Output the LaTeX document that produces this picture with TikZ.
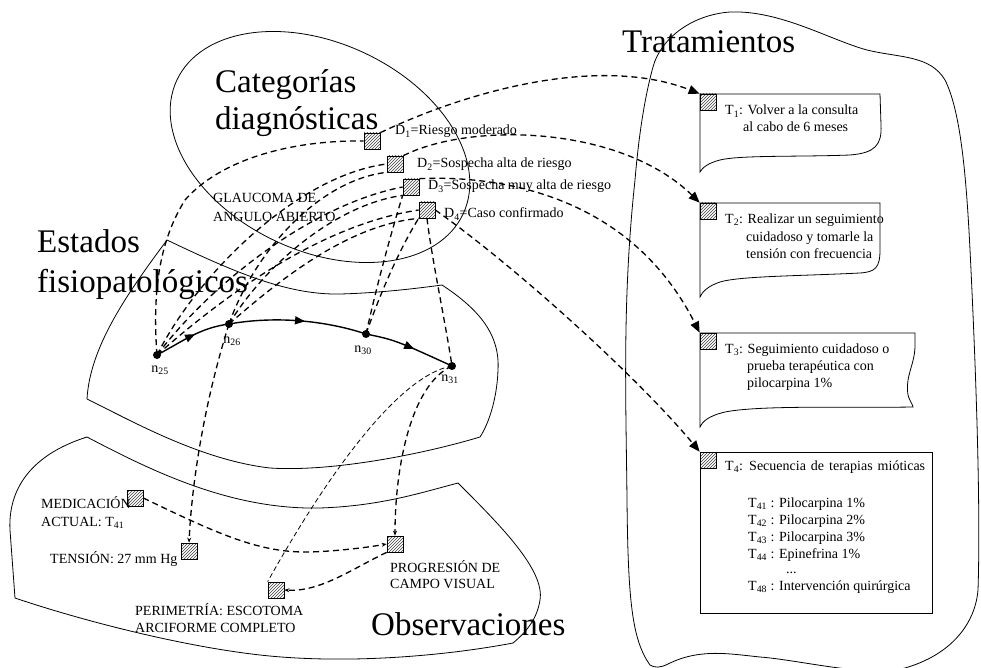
\documentclass[tikz,border=0pt]{standalone}
\usepackage{fontspec}
\setmainfont{Liberation Serif}
\usetikzlibrary{arrows.meta,patterns,decorations.markings}

\tikzset{
  region/.style={draw, line width=0.8pt},
  conn/.style={line width=1.3pt, dash pattern=on 6pt off 4pt},
  thinconn/.style={line width=0.8pt, dash pattern=on 5pt off 3pt},
  tobox/.style={conn, -{Triangle[length=11pt,width=9pt]}},
  smalltip/.style={-{Stealth[length=5pt,width=4pt]}},
  hatch/.style={draw, line width=0.7pt, minimum size=16pt, inner sep=0pt,
    preaction={fill=white}, pattern=north east lines, pattern color=black!75},
  statedot/.style={circle, fill=black, minimum size=8pt, inner sep=0pt},
  title/.style={font=\fontsize{33}{36}\selectfont, inner sep=0pt, anchor=base west},
  lbl/.style={font=\fontsize{14}{17}\selectfont, inner sep=0pt, anchor=base west},
  nlbl/.style={font=\fontsize{14}{17}\selectfont, inner sep=0pt},
  statepath/.style={line width=1.4pt, postaction={decorate},
    decoration={markings, mark=at position 0.55 with {\arrow{Triangle[length=10pt,width=8pt]}}}}
}

\begin{document}
\begin{tikzpicture}[x=1pt, y=-1pt]
\useasboundingbox (0,0) rectangle (981,668);

% ---------- regions ----------
% diagnostic categories
\draw[region, rotate around={-25:(320,147)}] (320,147) ellipse (158 and 104);

% pathophysiological states
\draw[region] (167,240) .. controls (240,275) and (290,295) .. (340,294)
  .. controls (380,293) and (420,288) .. (442,285)
  .. controls (480,310) and (500,335) .. (498,370)
  .. controls (497,400) and (488,425) .. (480,437)
  .. controls (420,455) and (330,472) .. (270,468)
  .. controls (200,460) and (130,420) .. (87,399)
  .. controls (90,345) and (130,290) .. (167,240) -- cycle;

% observations
\draw[region] (87,437) .. controls (150,470) and (230,510) .. (320,508)
  .. controls (380,506) and (420,493) .. (458,483)
  .. controls (500,525) and (545,570) .. (540,600)
  .. controls (537,620) and (525,633) .. (513,643)
  .. controls (450,655) and (350,665) .. (260,655)
  .. controls (180,646) and (80,620) .. (15,598)
  -- (10,530) .. controls (8,490) and (30,455) .. (87,437) -- cycle;

% treatments
\draw[region] (653,67) .. controls (660,40) and (690,15) .. (730,12)
  .. controls (780,10) and (830,40) .. (867,50)
  .. controls (900,58) and (930,55) .. (945,80)
  .. controls (960,110) and (966,170) .. (970,250)
  .. controls (975,350) and (981,500) .. (978,590)
  .. controls (975,625) and (950,655) .. (905,668)
  .. controls (870,678) and (800,660) .. (760,657)
  .. controls (730,654) and (700,648) .. (668,664)
  .. controls (660,668) and (655,668) .. (650,665)
  .. controls (632,640) and (628,600) .. (627,500)
  .. controls (626,400) and (622,300) .. (635,180)
  .. controls (640,120) and (648,85) .. (653,67) -- cycle;

% treatment boxes
\draw[region] (700,94) -- (880,94) -- (881,125)
  .. controls (882,145) and (875,153) .. (850,155)
  .. controls (800,157) and (740,155) .. (720,160)
  .. controls (708,163) and (702,168) .. (700,172) -- cycle;
\draw[region] (700,203) -- (880,203) -- (880,250)
  .. controls (880,268) and (875,272) .. (860,273)
  .. controls (800,276) and (740,276) .. (720,282)
  .. controls (708,286) and (702,292) .. (700,297) -- cycle;
\draw[region] (700,333) -- (915,333) -- (915,345)
  .. controls (915,365) and (905,375) .. (908,395)
  .. controls (910,402) and (913,405) .. (913,407)
  .. controls (850,408) and (760,405) .. (725,412)
  .. controls (708,416) and (702,422) .. (700,427) -- cycle;
\draw[region] (700,452) rectangle (932,613);

% ---------- titles ----------
\node[title] (tTrat) at (622,53) {Tratamientos};
\node[title] (tCat1) at (215,93) {Categorías};
\node[title] (tCat2) at (215,130) {diagnósticas};
\node[title] (tEst1) at (37,252) {Estados};
\node[title] (tEst2) at (37,292) {fisiopatológicos};
\node[title] (tObs) at (371,635) {Observaciones};

% ---------- hatched markers ----------
\node[hatch] (d1) at (372,141) {};
\node[hatch] (d2) at (395,164) {};
\node[hatch] (d3) at (411,187) {};
\node[hatch] (d4) at (427,210) {};
\node[hatch] (th1) at (708,102) {};
\node[hatch] (th2) at (708,211) {};
\node[hatch] (th3) at (708,341) {};
\node[hatch] (th4) at (708,460) {};
\node[hatch] (hm) at (135,498) {};
\node[hatch] (ht) at (189,551) {};
\node[hatch] (hp) at (276,590) {};
\node[hatch] (hg) at (395,544) {};

% ---------- state nodes ----------
\node[statedot] (n25) at (157,355) {};
\node[statedot] (n26) at (229,324) {};
\node[statedot] (n30) at (366,334) {};
\node[statedot] (n31) at (452,366) {};
\node[nlbl] (l25) at (160,370) {n\textsubscript{25}};
\node[nlbl] (l26) at (232,341) {n\textsubscript{26}};
\node[nlbl] (l30) at (363,350) {n\textsubscript{30}};
\node[nlbl] (l31) at (450,379) {n\textsubscript{31}};

% state transitions
\draw[statepath] (n25.center) .. controls (185,340) and (200,328) .. (n26.center);
\draw[statepath] (n26.center) .. controls (280,315) and (330,322) .. (n30.center);
\draw[statepath] (n30.center) .. controls (395,340) .. (n31.center);

% ---------- links states -> categories ----------
\draw[conn] (n25.center) .. controls (152,290) and (160,240) .. (185,200)
  .. controls (220,160) and (290,140) .. (d1.west);
\draw[conn] (n25.center) .. controls (200,270) and (300,175) .. (d2.west);
\draw[conn] (n25.center) .. controls (210,285) and (310,205) .. (d3.west);
\draw[conn] (n25.center) .. controls (225,295) and (320,225) .. (d4.west);
\draw[conn] (n26.center) .. controls (255,250) and (320,180) .. (d2.south west);
\draw[conn] (n26.center) .. controls (265,265) and (335,205) .. (d3.south west);
\draw[conn] (n26.center) .. controls (285,275) and (350,225) .. (d4.south west);
\draw[conn] (n30.center) .. controls (378,280) and (392,230) .. (d3.south west);
\draw[conn] (n30.center) .. controls (385,280) and (405,240) .. (d4.south west);
\draw[conn] (d4.south) .. controls (432,260) and (445,320) .. (n31.center);

% ---------- links categories -> treatments ----------
\draw[tobox] (d1.north east) .. controls (470,90) and (600,55) .. (th1.north west);
\draw[tobox] (d2.north east) .. controls (470,122) and (620,125) .. (th2.north west);
\draw[tobox] (d3.north east) .. controls (500,175) and (630,195) .. (th3.north west);
\draw[tobox] (d4.east) .. controls (520,270) and (640,380) .. (th4.north west);

% ---------- links with observations ----------
\draw[conn, smalltip] (n26.center) .. controls (205,400) and (192,480) .. (ht.north);
\draw[conn, smalltip] (n31.center) .. controls (410,385) and (395,470) .. (hg.north);
\draw[thinconn] (n31.center) .. controls (400,375) and (330,470) .. (hp.north west);
\draw[conn, smalltip] (hm.east) .. controls (220,535) and (260,553) .. (310,552)
  .. controls (340,551) and (370,547) .. (hg.west);
\draw[conn, smalltip] (hg.south west) .. controls (350,570) and (320,592) .. (hp.east);

% ---------- category labels ----------
\node[lbl] (ld1) at (395,135) {D\textsubscript{1}=Riesgo moderado};
\node[lbl] (ld2) at (417,168) {D\textsubscript{2}=Sospecha alta de riesgo};
\node[lbl] (ld3) at (428,190) {D\textsubscript{3}=Sospecha muy alta de riesgo};
\node[lbl] (ld4) at (444,218) {D\textsubscript{4}=Caso confirmado};
\node[lbl] (lg1) at (213,203) {GLAUCOMA DE};
\node[lbl] (lg2) at (213,222) {ANGULO ABIERTO};

% ---------- treatment texts ----------
\node[lbl] (t1a) at (725,115) {T\textsubscript{1}: Volver a la consulta};
\node[lbl] (t1b) at (743,132) {al cabo de 6 meses};
\node[lbl] (t2a) at (725,223) {T\textsubscript{2}: Realizar un seguimiento};
\node[lbl] (t2b) at (746,241) {cuidadoso y tomarle la};
\node[lbl] (t2c) at (746,258) {tensión con frecuencia};
\node[lbl] (t3a) at (725,353) {T\textsubscript{3}: Seguimiento cuidadoso o};
\node[lbl] (t3b) at (747,370) {prueba terapéutica con};
\node[lbl] (t3c) at (747,387) {pilocarpina 1\%};
\node[lbl] (t4a) at (725,470) {\spaceskip=5pt T\textsubscript{4}: Secuencia de terapias mióticas};
\node[lbl] (t41) at (748,507) {T\textsubscript{41} : Pilocarpina 1\%};
\node[lbl] (t42) at (748,524) {T\textsubscript{42} : Pilocarpina 2\%};
\node[lbl] (t43) at (748,541) {T\textsubscript{43} : Pilocarpina 3\%};
\node[lbl] (t44) at (748,558) {T\textsubscript{44} : Epinefrina 1\%};
\node[lbl] (tdots) at (786,573) {...};
\node[lbl] (t48) at (748,590) {T\textsubscript{48} : Intervención quirúrgica};

% ---------- observation texts ----------
\node[lbl] (om1) at (41,508) {MEDICACIÓN};
\node[lbl] (om2) at (41,526) {ACTUAL: T\textsubscript{41}};
\node[lbl] (ot) at (50,563) {TENSIÓN: 27 mm Hg};
\node[lbl] (op1) at (135,615) {PERIMETRÍA: ESCOTOMA};
\node[lbl] (op2) at (135,632) {ARCIFORME COMPLETO};
\node[lbl] (og1) at (390,572) {PROGRESIÓN DE};
\node[lbl] (og2) at (390,588) {CAMPO VISUAL};
\end{tikzpicture}
\end{document}
